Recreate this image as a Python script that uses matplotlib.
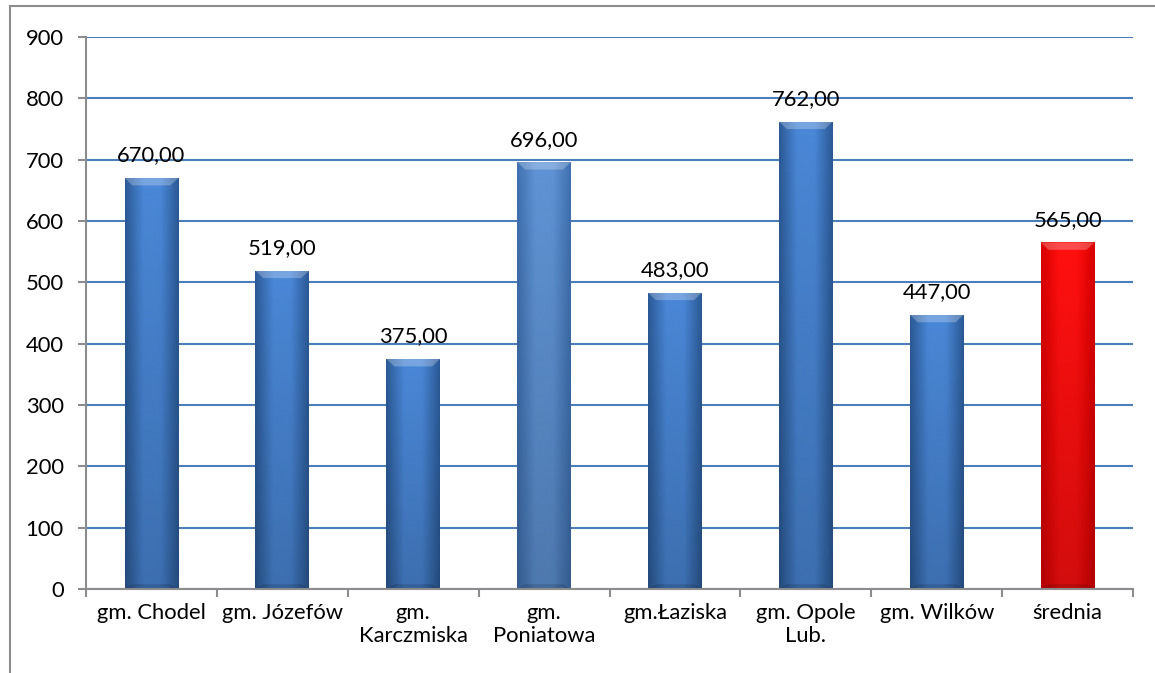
import matplotlib
matplotlib.use("Agg")
import matplotlib.pyplot as plt
import numpy as np
from matplotlib.patches import Rectangle
from matplotlib.colors import LinearSegmentedColormap

categories = ["gm. Chodel", "gm. Józefów", "gm.\nKarczmiska", "gm.\nPoniatowa",
              "gm.Łaziska", "gm. Opole\nLub.", "gm. Wilków", "średnia"]
values = [670, 519, 375, 696, 483, 762, 447, 565]
labels = ["670,00", "519,00", "375,00", "696,00", "483,00", "762,00", "447,00", "565,00"]
# (edge colour, centre colour) of each bar's gradient
bar_colors = [("#2c5a96", "#4a87d6"), ("#2c5a96", "#4a87d6"), ("#2c5a96", "#4a87d6"),
              ("#3f6fae", "#5f93d4"), ("#2c5a96", "#4a87d6"), ("#2c5a96", "#4a87d6"),
              ("#2c5a96", "#4a87d6"), ("#d80000", "#ff1010")]
y_ticks = [0, 100, 200, 300, 400, 500, 600, 700, 800, 900]

plt.rcParams['font.family'] = ['Lato', 'DejaVu Sans']
FS = 15.8

fig = plt.figure(figsize=(11.55, 6.73), dpi=100)
ax = fig.add_axes([86/1155, 1-589/673, (1133-86)/1155, (589-37)/673])

# outer border
fig.patches.append(Rectangle((9.5/1155, -0.1), 1.2, 1-6.5/673+0.1, transform=fig.transFigure,
                             fill=False, edgecolor="#8c8c8c", linewidth=1.5))

x = np.arange(len(values))
width = 0.41
bars = ax.bar(x, values, width=width, color="none", edgecolor="none", zorder=3)

for b, (edge, centre) in zip(bars, bar_colors):
    cmap = LinearSegmentedColormap.from_list("g", [edge, centre, centre, edge])
    grad = np.linspace(0, 1, 100).reshape(1, -1)
    x0, x1 = b.get_x(), b.get_x() + b.get_width()
    h = b.get_height()
    im = ax.imshow(grad, cmap=cmap, aspect="auto", extent=(x0, x1, 0, h),
                   zorder=3, interpolation="bicubic")
    im.set_clip_path(b)
    # vertical shading: darker toward the bottom
    vgrad = np.linspace(0, 1, 100).reshape(-1, 1)
    ax.imshow(vgrad, cmap=LinearSegmentedColormap.from_list("v", [(0, 0, 0, 0.18), (0, 0, 0, 0)]),
              aspect="auto", extent=(x0, x1, 0, h), origin="lower", zorder=3.5).set_clip_path(b)
    # top bevel highlight
    ax.fill([x0, x1, x1 - 0.06, x0 + 0.06], [h, h, h - 12, h - 12],
            color="white", alpha=0.25, zorder=4, linewidth=0)
    # bottom shade
    ax.fill([x0, x1, x1 - 0.06, x0 + 0.06], [0, 0, 8, 8],
            color="black", alpha=0.12, zorder=4, linewidth=0)

for xi, v, lab in zip(x, values, labels):
    ax.annotate(lab, (xi, v), xytext=(0, 9), textcoords="offset points",
                ha="center", va="bottom", fontsize=FS, color="black", zorder=5)

ax.set_xlim(-0.5, len(values) - 0.5)
ax.set_ylim(0, 900)
ax.set_yticks(y_ticks)
ax.set_yticklabels([str(t) for t in y_ticks], fontsize=FS)
ax.yaxis.grid(True, color="#4a7ebb", linewidth=1.5, zorder=1)
ax.set_axisbelow(True)

ax.set_xticks(x)
ax.set_xticklabels(categories, fontsize=FS, linespacing=1.2)
ax.set_xticks(np.arange(len(values) + 1) - 0.5, minor=True)
ax.tick_params(axis="x", which="major", length=0, pad=10)
ax.tick_params(axis="x", which="minor", length=6, width=1.5, color="#8c8c8c", direction="out")
ax.tick_params(axis="y", length=6, width=1.5, color="#8c8c8c", direction="out", pad=10)

for s in ["top", "right"]:
    ax.spines[s].set_visible(False)
for s in ["left", "bottom"]:
    ax.spines[s].set_color("#8c8c8c")
    ax.spines[s].set_linewidth(1.5)
    ax.spines[s].set_zorder(6)

fig.savefig("out.png", dpi=100)
